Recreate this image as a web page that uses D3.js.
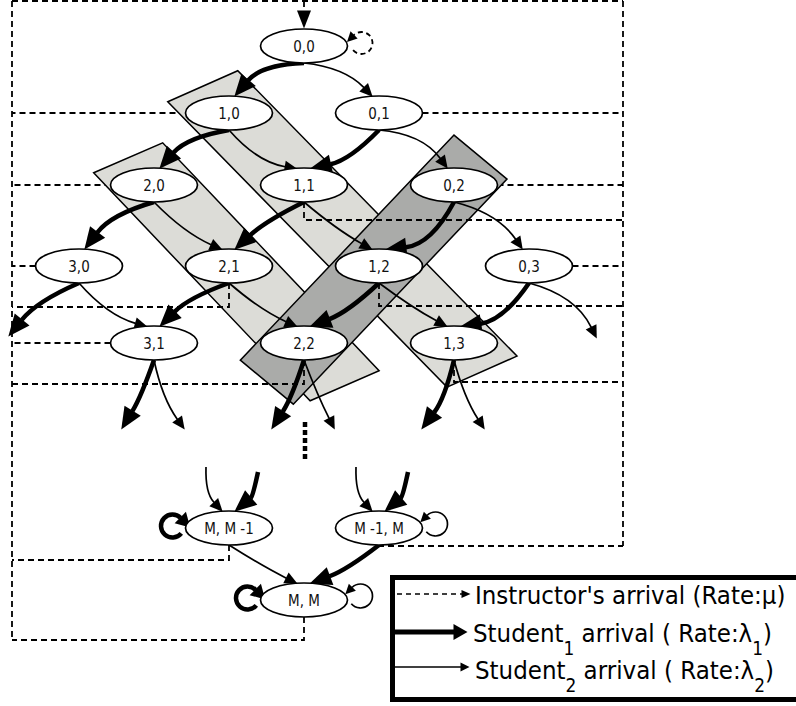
<!DOCTYPE html>
<html><head><meta charset="utf-8">
<script src="https://cdn.jsdelivr.net/npm/d3@7"></script>
<style>html,body{margin:0;padding:0;background:#fff;} svg{display:block;}</style>
</head><body>
<script>
// ---------------- data ----------------
const nodeLabels = ["0,0","1,0","0,1","2,0","1,1","0,2","3,0","2,1","1,2","0,3","3,1","2,2","1,3","M, M -1","M -1, M","M, M"];
const nodeCols   = [0,-1,1,-2,0,2,-3,-1,1,3,-2,0,2,-1,1,0];            // j - i
const nodeLevels = ["0","1","1","2","2","2","3","3","3","3","4","4","4","2M-1","2M-1","2M"]; // i + j
const levelDomain = ["0","1","2","3","4","2M-1","2M"];

// Student 1 arrivals (thick): (i,j) -> (i+1,j); null = to / from the "⋮" continuation
const s1Edges = [["0,0","1,0"],["1,0","2,0"],["2,0","3,0"],["3,0",null],["0,1","1,1"],["1,1","2,1"],
  ["2,1","3,1"],["3,1",null],["0,2","1,2"],["1,2","2,2"],["2,2",null],["0,3","1,3"],["1,3",null],
  [null,"M, M -1"],[null,"M -1, M"],["M -1, M","M, M"]];
// Student 2 arrivals (thin): (i,j) -> (i,j+1)
const s2Edges = [["0,0","0,1"],["0,1","0,2"],["0,2","0,3"],["0,3",null],["1,0","1,1"],["1,1","1,2"],
  ["1,2","1,3"],["1,3",null],["2,0","2,1"],["2,1","2,2"],["2,2",null],["3,0","3,1"],["3,1",null],
  [null,"M, M -1"],[null,"M -1, M"],["M, M -1","M, M"]];
const s1Loops = ["M, M -1","M, M"];
const s2Loops = ["M -1, M","M, M"];
const instructorStart = "0,0";
const instructorLeft  = ["1,0","2,0","3,0","3,1","2,1","2,2","M, M -1","M, M"];
const instructorRight = ["0,1","0,2","0,3","1,1","1,2","1,3","M -1, M"];
const rowStrips = [["1,0","1,3"],["2,0","2,2"]];
const colStrips = [["0,2","2,2"]];
const legendRows = [
  [["Instructor's arrival (Rate:μ)",0]],
  [["Student",0],["1",1],[" arrival ( Rate:λ",0],["1",1],[")",0]],
  [["Student",0],["2",1],[" arrival ( Rate:λ",0],["2",1],[")",0]]
];
const legendKinds = ["mu","s1","s2"];

// ---------------- layout / style ----------------
const W = 796, H = 706, RX = 43.5, RY = 17;
const x = d3.scaleLinear().domain([-4,4]).range([4,604]);
const y = d3.scaleOrdinal().domain(levelDomain).range([46,113,185,266,343,528,600]);
const nodes = nodeLabels.map((l,i)=>({label:l, x:x(nodeCols[i]), y:y(nodeLevels[i]), col:nodeCols[i], lev:nodeLevels[i]}));
const P = Object.fromEntries(nodes.map(n=>[n.label,n]));
const busL = 12, busR = 623, busTop = 1;
const dropGap = {"1,1":18,"2,1":24,"1,2":23,"2,2":24,"1,3":22,"M, M -1":15,"M, M":23,"M -1, M":1};
const bend = {
 "s1|0,0>1,0":17,"s1|1,0>2,0":14,"s1|2,0>3,0":14,"s1|3,0>":11,"s1|0,1>1,1":-12,"s1|1,1>2,1":6,
 "s1|2,1>3,1":9,"s1|3,1>":-4,"s1|0,2>1,2":-22,"s1|1,2>2,2":-8,"s1|2,2>":-5,"s1|0,3>1,3":-18,
 "s1|1,3>":-8,"s1|>M, M -1":-8,"s1|>M -1, M":-8,"s1|M -1, M>M, M":-6,
 "s2|0,0>0,1":-14,"s2|0,1>0,2":-18,"s2|0,2>0,3":-16,"s2|0,3>":-20,"s2|1,0>1,1":14,"s2|1,1>1,2":4,
 "s2|1,2>1,3":3,"s2|1,3>":6,"s2|2,0>2,1":8,"s2|2,1>2,2":6,"s2|2,2>":2,"s2|3,0>3,1":12,"s2|3,1>":8,
 "s2|>M, M -1":10,"s2|>M -1, M":10,"s2|M, M -1>M, M":2
};
const arrowL = {s1:22, s2:13}, sw = {s1:4.5, s2:1.7};
const DASH = "6,4", DSW = 1.8, TIP_IN = 1;

const svg = d3.select("body").append("svg").attr("width",W).attr("height",H)
  .attr("font-family","'DejaVu Sans', sans-serif");
const defs = svg.append("defs");
function marker(id, L, hw){
  defs.append("marker").attr("id",id).attr("markerUnits","userSpaceOnUse")
   .attr("viewBox",`-1 ${-hw-1} ${L+2} ${2*hw+2}`).attr("markerWidth",L+2).attr("markerHeight",2*hw+2)
   .attr("refX",0.5).attr("refY",0).attr("orient","auto").style("overflow","visible")
   .append("path").attr("d",`M0,${-hw}L${L},0L0,${hw}Z`).attr("fill","#000").attr("stroke","none");
}
marker("a1",22,9.5); marker("a2",13,6); marker("aI",18,7);
marker("l1",14,8); marker("l2",10,5); marker("lg1",14,8); marker("lg2",9,4.5); marker("lgI",9,4);

const gUnder = svg.append("g"), gStrip = svg.append("g"), gOver = svg.append("g"),
      gEdge = svg.append("g"), gNode = svg.append("g"), gLeg = svg.append("g");

function dashed(g, pts){
  return g.append("path").attr("d", d3.line()(pts)).attr("fill","none").attr("stroke","#000")
    .attr("stroke-width",DSW).attr("stroke-dasharray",DASH);
}

// --- instructor frame (bus) ---
const dropY = n => n.y + RY + dropGap[n.label];
const leftBottom = d3.max(instructorLeft.map(l=>P[l]).map(n=> dropGap[n.label]!==undefined ? dropY(n) : n.y));
const rightBottom = d3.max(instructorRight.map(l=>P[l]).map(n=> dropGap[n.label]!==undefined ? dropY(n) : n.y));
dashed(gUnder, [[busL,busTop],[busR,busTop]]);
dashed(gUnder, [[busL,busTop],[busL,leftBottom]]);
dashed(gUnder, [[busR,busTop],[busR,rightBottom]]);

function exits(list, side){
  const bx = side==="L" ? busL : busR;
  list.forEach(l=>{
    const n = P[l];
    if(dropGap[l]===undefined){
      const ex = side==="L" ? n.x-RX : n.x+RX;
      dashed(gUnder, [[ex,n.y],[bx,n.y]]);
    } else {
      const yy = dropY(n);
      dashed(gOver, [[n.x,n.y+RY],[n.x,yy],[bx,yy]]);
    }
  });
}
exits(instructorLeft,"L"); exits(instructorRight,"R");

// --- strips ---
function strip(a, b, e1, e2, cross, fill){
  const A=P[a], B=P[b];
  const dx=B.x-A.x, dy=B.y-A.y, len=Math.hypot(dx,dy), ux=dx/len, uy=dy/len;
  const s=[A.x-e1*ux, A.y-e1*uy], e=[B.x+e2*ux, B.y+e2*uy];
  const pts=[[s[0]-cross[0],s[1]-cross[1]],[s[0]+cross[0],s[1]+cross[1]],[e[0]+cross[0],e[1]+cross[1]],[e[0]-cross[0],e[1]-cross[1]]];
  gStrip.append("path").attr("d", d3.line()(pts)+"Z").attr("fill",fill).attr("stroke","#000").attr("stroke-width",1.5);
}
strip(rowStrips[0][0], rowStrips[0][1], 37.5, 40, [35,-15.5], "#dcdcd7");
strip(rowStrips[1][0], rowStrips[1][1], 37.5, 59, [34.5,-15], "#dcdcd7");
strip(colStrips[0][0], colStrips[0][1], 38.5, 54, [26.5,22], "#aaaba9");

// continuation dots
gOver.append("line").attr("x1",x(0)+1).attr("x2",x(0)+1).attr("y1",y("4")+79).attr("y2",y("4")+119)
  .attr("stroke","#000").attr("stroke-width",4.5).attr("stroke-dasharray","5,3");

// --- student edges ---
function offTip(kind, n){
  if(kind==="s1") return Math.abs(n.col)===3 ? [-71,71] : [-33,87];
  return Math.abs(n.col)===3 ? [68,73] : [31,87];
}
const enterOff = {s1:[29,-56], s2:[-23,-61]};
function drawEdge(kind, from, to){
  let S, T;
  if(from){ const a=P[from]; S=[a.x, a.y+RY]; }
  if(to){ const b=P[to]; T = kind==="s1" ? [b.x+5, b.y-RY+TIP_IN] : [b.x-6, b.y-RY+TIP_IN]; }
  else { const a=P[from], o=offTip(kind,a); T=[a.x+o[0], a.y+o[1]]; }
  if(!from){ const b=P[to], o=enterOff[kind]; S=[b.x+o[0], b.y+o[1]]; }
  const k = bend[`${kind}|${from||""}>${to||""}`] || 0;
  const dx=T[0]-S[0], dy=T[1]-S[1], len=Math.hypot(dx,dy);
  const C=[(S[0]+T[0])/2 - k*dy/len, (S[1]+T[1])/2 + k*dx/len];
  const vx=T[0]-C[0], vy=T[1]-C[1], vl=Math.hypot(vx,vy), L=arrowL[kind];
  const E=[T[0]-L*vx/vl, T[1]-L*vy/vl];
  gEdge.append("path").attr("d",`M${S[0]},${S[1]}Q${C[0]},${C[1]} ${E[0]},${E[1]}`)
    .attr("fill","none").attr("stroke","#000").attr("stroke-width",sw[kind])
    .attr("marker-end", kind==="s1" ? "url(#a1)" : "url(#a2)");
}
s1Edges.forEach(e=>drawEdge("s1",e[0],e[1]));
s2Edges.forEach(e=>drawEdge("s2",e[0],e[1]));

// --- self loops ---
function loop(cx, cy, r, a0, a1, sweep){
  const rad=Math.PI/180;
  return `M${cx+r*Math.cos(a0*rad)},${cy+r*Math.sin(a0*rad)}A${r},${r} 0 1 ${sweep} ${cx+r*Math.cos(a1*rad)},${cy+r*Math.sin(a1*rad)}`;
}
s1Loops.forEach(l=>{ const n=P[l];
  gEdge.append("path").attr("d",loop(n.x-RX-13, n.y-2, 11.5, 40, 315, 1)).attr("fill","none")
   .attr("stroke","#000").attr("stroke-width",4.5).attr("marker-end","url(#l1)"); });
s2Loops.forEach(l=>{ const n=P[l];
  gEdge.append("path").attr("d",loop(n.x+RX+13, n.y-4, 12, 140, -135, 0)).attr("fill","none")
   .attr("stroke","#000").attr("stroke-width",1.7).attr("marker-end","url(#l2)"); });
{ const n=P[instructorStart];
  gEdge.append("path").attr("d",loop(n.x+RX+14, n.y-3, 11, 140, -135, 0)).attr("fill","none")
   .attr("stroke","#000").attr("stroke-width",DSW).attr("stroke-dasharray","5,3.5").attr("marker-end","url(#l2)");
  gEdge.append("path").attr("d",d3.line()([[n.x,busTop],[n.x,n.y-RY-18]])).attr("fill","none")
   .attr("stroke","#000").attr("stroke-width",DSW).attr("stroke-dasharray",DASH).attr("marker-end","url(#aI)");
}

// --- nodes ---
const ng = gNode.selectAll("g").data(nodes).join("g");
ng.append("ellipse").attr("cx",d=>d.x).attr("cy",d=>d.y).attr("rx",RX).attr("ry",RY)
  .attr("fill","#fff").attr("stroke","#000").attr("stroke-width",1.7);
ng.append("text").attr("text-anchor","middle").attr("font-size",13.5).attr("fill","#111")
  .attr("transform",d=>`translate(${d.x},${d.y+6}) scale(1,1.12)`).text(d=>d.label);

// --- legend ---
gLeg.append("rect").attr("x",392.5).attr("y",577.5).attr("width",420).attr("height",122)
  .attr("fill","#fff").attr("stroke","#000").attr("stroke-width",5);
const legY = [594, 632, 667], legBase = [604, 642, 679];
legendKinds.forEach((k,i)=>{
  const ln = gLeg.append("path").attr("fill","none").attr("stroke","#000");
  if(k==="mu") ln.attr("d",d3.line()([[397,legY[i]],[462,legY[i]]])).attr("stroke-width",1.7)
     .attr("stroke-dasharray","5,4").attr("marker-end","url(#lgI)");
  if(k==="s1") ln.attr("d",d3.line()([[395,legY[i]],[454,legY[i]]])).attr("stroke-width",5).attr("marker-end","url(#lg1)");
  if(k==="s2") ln.attr("d",d3.line()([[395,legY[i]],[461,legY[i]]])).attr("stroke-width",1.7).attr("marker-end","url(#lg2)");
  const t = gLeg.append("text").attr("font-size",23).attr("fill","#000")
    .attr("transform",`translate(${i===1?473:475},${legBase[i]}) scale(1,1.1)`);
  let sub=false;
  legendRows[i].forEach(([s,isSub])=>{
    const ts=t.append("tspan").text(s);
    if(isSub && !sub){ ts.attr("font-size",17).attr("dy",12); sub=true; }
    else if(!isSub && sub){ ts.attr("dy",-12); sub=false; }
    else if(isSub) ts.attr("font-size",17);
  });
});
</script>
</body></html>
